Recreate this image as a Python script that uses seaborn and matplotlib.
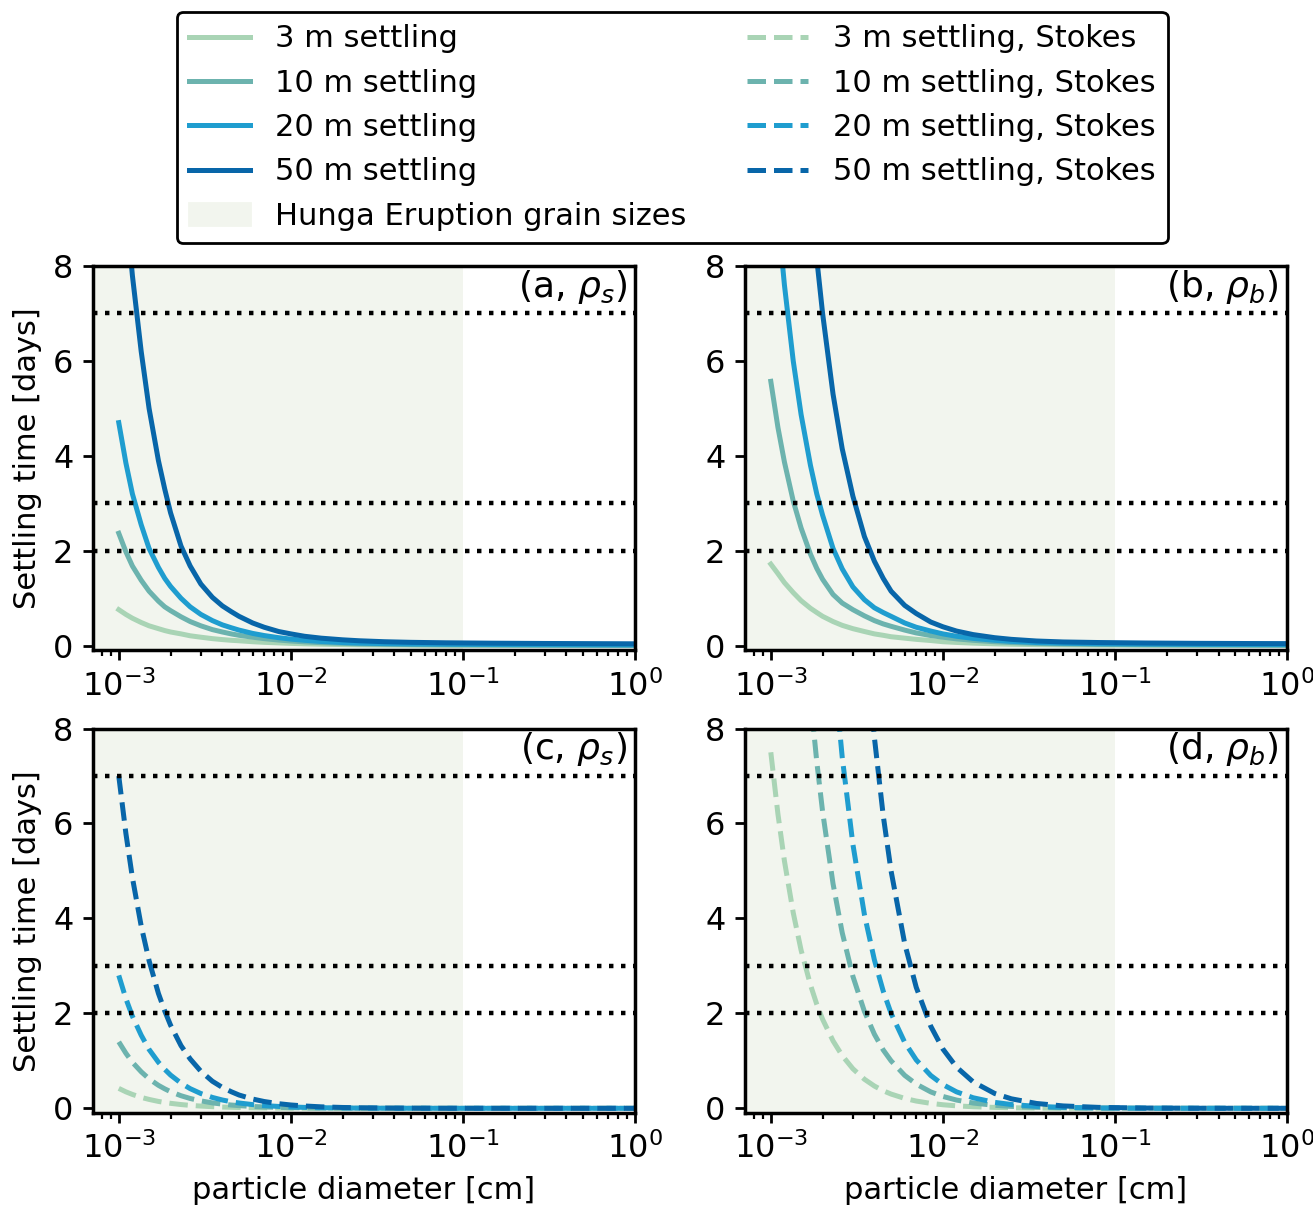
import numpy as np
import pandas as pd
import seaborn as sns
import matplotlib.pyplot as plt
from matplotlib.lines import Line2D
from matplotlib.patches import Patch

plt.rcParams['font.family'] = 'DejaVu Sans'
plt.rcParams['font.size'] = 11
plt.rcParams['axes.linewidth'] = 1.25

# particle diameter [cm]
diameter = [1.0e-3, 1.1e-3, 1.2e-3, 1.35e-3, 1.5e-3, 1.7e-3, 1.85e-3, 2.0e-3, 2.3e-3, 2.6e-3,
            3.0e-3, 3.5e-3, 4.0e-3, 4.5e-3, 5.0e-3, 6.0e-3, 7.0e-3, 8.5e-3, 1.0e-2, 1.2e-2,
            1.5e-2, 2.0e-2, 2.5e-2, 3.5e-2, 5e-2, 8e-2, 0.15, 0.3, 0.6, 1.0]

depths = ["3 m", "10 m", "20 m", "50 m"]
colors = ["#a9d4b5", "#6cb3ae", "#1f9dcf", "#0866a9"]

# (a) settling, rho_s  [days]
a_3 = [0.76, 0.66, 0.58, 0.49, 0.42, 0.36, 0.32, 0.29, 0.25, 0.21, 0.18, 0.15, 0.13, 0.115, 0.105,
       0.085, 0.072, 0.06, 0.05, 0.041, 0.033, 0.025, 0.02, 0.015, 0.012, 0.009, 0.007, 0.005, 0.0045, 0.004]
a_10 = [2.37, 1.98, 1.68, 1.38, 1.15, 0.94, 0.82, 0.74, 0.61, 0.51, 0.42, 0.34, 0.29, 0.25, 0.22,
        0.18, 0.15, 0.12, 0.10, 0.082, 0.065, 0.05, 0.04, 0.031, 0.025, 0.02, 0.015, 0.012, 0.01, 0.009]
a_20 = [4.7, 3.85, 3.2, 2.55, 2.05, 1.65, 1.42, 1.25, 1.0, 0.82, 0.66, 0.53, 0.44, 0.38, 0.33,
        0.26, 0.215, 0.17, 0.14, 0.115, 0.09, 0.068, 0.056, 0.045, 0.037, 0.031, 0.026, 0.022, 0.019, 0.017]
a_50 = [11.3, 9.3, 7.8, 6.2, 5.0, 3.9, 3.3, 2.8, 2.1, 1.68, 1.30, 1.02, 0.84, 0.72, 0.62,
        0.48, 0.39, 0.30, 0.25, 0.20, 0.16, 0.125, 0.105, 0.085, 0.072, 0.062, 0.054, 0.048, 0.044, 0.041]

# (b) settling, rho_b
b_3 = [1.72, 1.52, 1.33, 1.12, 0.95, 0.79, 0.70, 0.62, 0.51, 0.43, 0.36, 0.30, 0.25, 0.22, 0.19,
       0.16, 0.135, 0.11, 0.085, 0.07, 0.055, 0.04, 0.032, 0.024, 0.018, 0.013, 0.01, 0.007, 0.006, 0.005]
b_10 = [5.57, 4.6, 3.87, 3.05, 2.48, 1.93, 1.63, 1.40, 1.08, 0.90, 0.76, 0.63, 0.53, 0.46, 0.41,
        0.33, 0.27, 0.215, 0.18, 0.145, 0.115, 0.085, 0.068, 0.05, 0.038, 0.028, 0.021, 0.016, 0.013, 0.012]
b_20 = [10.95, 9.05, 7.6, 6.0, 4.87, 3.8, 3.2, 2.75, 2.05, 1.62, 1.24, 0.97, 0.80, 0.70, 0.62,
        0.48, 0.39, 0.31, 0.25, 0.2, 0.155, 0.115, 0.092, 0.068, 0.053, 0.042, 0.034, 0.028, 0.025, 0.023]
b_50 = [28.0, 23.0, 19.4, 15.3, 12.4, 9.65, 8.15, 7.0, 5.3, 4.15, 3.15, 2.3, 1.78, 1.42, 1.15,
        0.85, 0.68, 0.50, 0.40, 0.31, 0.235, 0.17, 0.135, 0.10, 0.08, 0.068, 0.058, 0.051, 0.047, 0.045]

# (c) Stokes, rho_s
c_3 = [0.42, 0.347, 0.292, 0.23, 0.187, 0.145, 0.123, 0.105, 0.079, 0.062, 0.047, 0.034, 0.026, 0.021, 0.017,
       0.0117, 0.0086, 0.0058, 0.0042, 0.0029, 0.0019, 0.00105, 0.00067, 0.00034, 0.00017, 0.000066,
       0.000019, 0.0000047, 0.0000012, 0.0000004]
c_10 = [1.4, 1.16, 0.97, 0.77, 0.62, 0.484, 0.41, 0.35, 0.265, 0.207, 0.156, 0.114, 0.0875, 0.069, 0.056,
        0.039, 0.0286, 0.0194, 0.014, 0.0097, 0.0062, 0.0035, 0.0022, 0.0011, 0.00056, 0.00022,
        0.00006, 0.000016, 0.000004, 0.0000014]
c_20 = [2.8, 2.31, 1.94, 1.54, 1.24, 0.97, 0.82, 0.70, 0.53, 0.414, 0.311, 0.229, 0.175, 0.138, 0.112,
        0.078, 0.057, 0.039, 0.028, 0.0194, 0.0124, 0.007, 0.0045, 0.0023, 0.0011, 0.00044,
        0.00012, 0.00003, 0.000008, 0.0000028]
c_50 = [7.0, 5.79, 4.86, 3.84, 3.11, 2.42, 2.05, 1.75, 1.32, 1.04, 0.78, 0.57, 0.44, 0.35, 0.28,
        0.195, 0.143, 0.097, 0.07, 0.049, 0.031, 0.0175, 0.0112, 0.0057, 0.0028, 0.0011,
        0.00031, 0.000078, 0.00002, 0.000007]

# (d) Stokes, rho_b
d_3 = [7.5, 6.2, 5.21, 4.12, 3.33, 2.6, 2.19, 1.875, 1.42, 1.11, 0.833, 0.612, 0.469, 0.370, 0.300,
       0.208, 0.153, 0.104, 0.075, 0.052, 0.033, 0.0188, 0.012, 0.0061, 0.003, 0.0012,
       0.00033, 0.00008, 0.00002, 0.0000075]
d_10 = [25, 20.7, 17.4, 13.7, 11.1, 8.65, 7.3, 6.25, 4.73, 3.70, 2.78, 2.04, 1.56, 1.23, 1.0,
        0.694, 0.51, 0.346, 0.25, 0.174, 0.111, 0.0625, 0.04, 0.0204, 0.01, 0.0039,
        0.0011, 0.00028, 0.00007, 0.000025]
d_20 = [50, 41.3, 34.7, 27.4, 22.2, 17.3, 14.6, 12.5, 9.45, 7.4, 5.56, 4.08, 3.125, 2.47, 2.0,
        1.39, 1.02, 0.692, 0.5, 0.347, 0.222, 0.125, 0.08, 0.041, 0.02, 0.0078,
        0.0022, 0.00056, 0.00014, 0.00005]
d_50 = [125, 103, 86.8, 68.6, 55.6, 43.3, 36.5, 31.3, 23.6, 18.5, 13.9, 10.2, 7.81, 6.17, 5.0,
        3.47, 2.55, 1.73, 1.25, 0.868, 0.556, 0.3125, 0.2, 0.102, 0.05, 0.0195,
        0.0056, 0.0014, 0.00035, 0.000125]

panels = [
    ("(a, $\\rho_s$)", [a_3, a_10, a_20, a_50], "-"),
    ("(b, $\\rho_b$)", [b_3, b_10, b_20, b_50], "-"),
    ("(c, $\\rho_s$)", [c_3, c_10, c_20, c_50], "--"),
    ("(d, $\\rho_b$)", [d_3, d_10, d_20, d_50], "--"),
]
thresholds = [2, 3, 7]
grain_max = 0.1
shade = "#f2f5ee"
lw = 1.8

fig, axes = plt.subplots(2, 2, figsize=(6.565, 6.04), dpi=200)
fig.subplots_adjust(left=0.0708, right=0.9802, top=0.7798, bottom=0.0786,
                    wspace=0.203, hspace=0.203)

for ax, (tag, series, ls) in zip(axes.flat, panels):
    ax.axvspan(1e-4, grain_max, color=shade, lw=0, zorder=0)
    for vals, col in zip(series, colors):
        sns.lineplot(x=diameter, y=vals, ax=ax, color=col, linestyle=ls, lw=lw,
                     sort=False, legend=False)
    for t in thresholds:
        ax.axhline(t, color="k", ls=(0, (1, 1.7)), lw=1.6)
    ax.set_xscale("log")
    ax.set_xlim(10 ** -3.15, 1)
    ax.set_ylim(-0.1, 8)
    ax.set_yticks([0, 2, 4, 6, 8])
    ax.tick_params(which="major", width=1.0, labelsize=11.5)
    ax.tick_params(which="minor", width=0.8)
    ax.text(0.985, 0.995, tag, transform=ax.transAxes, ha="right", va="top", fontsize=13)

for ax in axes[:, 0]:
    ax.set_ylabel("Settling time [days]")
for ax in axes[1, :]:
    ax.set_xlabel("particle diameter [cm]")

handles = [Line2D([], [], color=c, lw=lw) for c in colors]
handles.append(Patch(color=shade))
handles += [Line2D([], [], color=c, lw=lw, ls="--") for c in colors]
labels = [f"{d} settling" for d in depths] + ["Hunga Eruption grain sizes"] + \
         [f"{d} settling, Stokes" for d in depths]
leg = fig.legend(handles, labels, loc="upper center", bbox_to_anchor=(0.512, 1.0025),
                 ncol=2, handlelength=2.0, columnspacing=2.0, framealpha=1)
leg.get_frame().set_edgecolor("black")
leg.get_frame().set_linewidth(1.0)

fig.savefig("out.png", dpi=200)
